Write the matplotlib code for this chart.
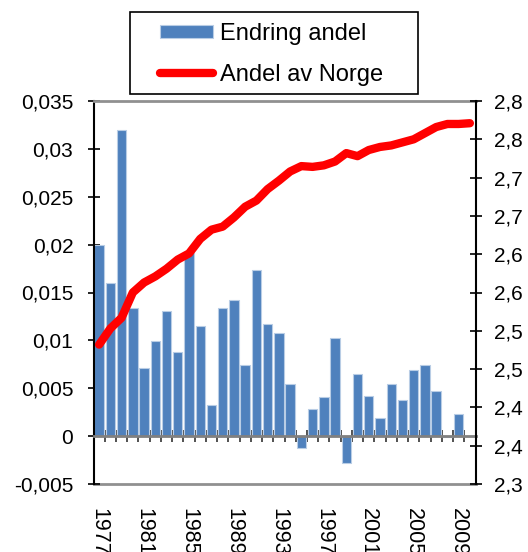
import numpy as np
import matplotlib
matplotlib.use("Agg")
import matplotlib.pyplot as plt
from matplotlib.patches import Rectangle

years = list(range(1977, 2011))
endring_andel = [0.0200, 0.0160, 0.0320, 0.0134, 0.0071, 0.0099, 0.0131, 0.0088,
                 0.0191, 0.0115, 0.0032, 0.0134, 0.0142, 0.0074, 0.0174, 0.0117,
                 0.0108, 0.0054, -0.0012, 0.0028, 0.0041, 0.0102, -0.0028, 0.0065,
                 0.0042, 0.0019, 0.0054, 0.0038, 0.0069, 0.0074, 0.0047, -0.0001,
                 0.0023, np.nan]
andel_av_norge = [2.482, 2.503, 2.517, 2.550, 2.563, 2.571, 2.581, 2.593, 2.601,
                  2.620, 2.632, 2.636, 2.648, 2.662, 2.670, 2.685, 2.696, 2.708,
                  2.715, 2.714, 2.716, 2.721, 2.732, 2.728, 2.736, 2.740, 2.742,
                  2.746, 2.750, 2.758, 2.766, 2.770, 2.770, 2.771]
left_ticks = [-0.005, 0.0, 0.005, 0.01, 0.015, 0.02, 0.025, 0.03, 0.035]
left_tick_labels = ['-0,005', '0', '0,005', '0,01', '0,015', '0,02', '0,025', '0,03', '0,035']
right_ticks = [2.30, 2.35, 2.40, 2.45, 2.50, 2.55, 2.60, 2.65, 2.70, 2.75, 2.80]
right_tick_labels = ['2,3', '2,4', '2,4', '2,5', '2,5', '2,6', '2,6', '2,7', '2,7', '2,8', '2,8']
year_labels = ['1977', '1981', '1985', '1989', '1993', '1997', '2001', '2005', '2009']
label_names = ['Endring andel', 'Andel av Norge']

plt.rcParams['font.family'] = ['Liberation Sans', 'DejaVu Sans']

W, H = 528, 552
fig = plt.figure(figsize=(W / 100, H / 100), dpi=100)
x0, x1, y0, y1 = 93.5, 475.5, 101, 484
ax = fig.add_axes([x0 / W, 1 - y1 / H, (x1 - x0) / W, (y1 - y0) / H])

x = np.arange(len(years))
bars = ax.bar(x, endring_andel, width=0.84, color='#4F81BD', edgecolor='#B9CDE5',
              linewidth=0.8, zorder=2, label=label_names[0])
ax.set_xlim(-0.5, len(years) - 0.5)
ax.set_ylim(-0.005, 0.035)
ax.set_yticks(left_ticks)
ax.set_yticklabels(left_tick_labels)
ax.tick_params(axis='y', direction='inout', length=9, width=1.2, labelsize=15, pad=10)

# category boundary ticks on the zero line
ax.spines['bottom'].set_position(('data', 0))
ax.spines['bottom'].set_color('#808080')
ax.spines['bottom'].set_linewidth(2)
ax.spines['bottom'].set_zorder(3)
ax.set_xticks(np.arange(-0.5, len(years), 1))
ax.set_xticklabels([])
ax.tick_params(axis='x', direction='inout', length=9, width=1.2, color='#333333')
ax.spines['top'].set_color('#909090')
ax.spines['top'].set_linewidth(2)
ax.spines['left'].set_color('black')
ax.spines['left'].set_linewidth(1.5)
ax.spines['right'].set_visible(False)

sec = ax.secondary_xaxis('bottom')
sec.set_xticks([years.index(int(y)) for y in year_labels])
sec.set_xticklabels(year_labels, rotation=-90, va='top', ha='center')
sec.tick_params(axis='x', length=0, labelsize=15.5, pad=17)
sec.spines['bottom'].set_color('#909090')
sec.spines['bottom'].set_linewidth(2)

ax2 = ax.twinx()
line, = ax2.plot(x, andel_av_norge, color='#FF0000', lw=6, solid_capstyle='round',
                 solid_joinstyle='round', label=label_names[1], zorder=4)
ax2.set_ylim(2.30, 2.80)
ax2.set_yticks(right_ticks)
ax2.set_yticklabels(right_tick_labels)
ax2.tick_params(axis='y', direction='inout', length=9, width=1.2, labelsize=15, pad=9)
for s in ['left', 'top', 'bottom']:
    ax2.spines[s].set_visible(False)
ax2.spines['right'].set_color('black')
ax2.spines['right'].set_linewidth(1.5)

# legend frame
fig.patches.append(Rectangle((130 / W, 1 - 94 / H), (418 - 130) / W, (94 - 12) / H,
                             transform=fig.transFigure, facecolor='white',
                             edgecolor='black', linewidth=1.2, zorder=5))
leg = fig.legend([bars, line], label_names, loc='upper left',
                 bbox_to_anchor=(160 / W, 1 - 23 / H), frameon=False, fontsize=17,
                 handlelength=2.25, handleheight=0.5, handletextpad=0.3,
                 labelspacing=0.8, borderpad=0, borderaxespad=0)
leg.set_zorder(6)

fig.savefig('out.png', dpi=100)
